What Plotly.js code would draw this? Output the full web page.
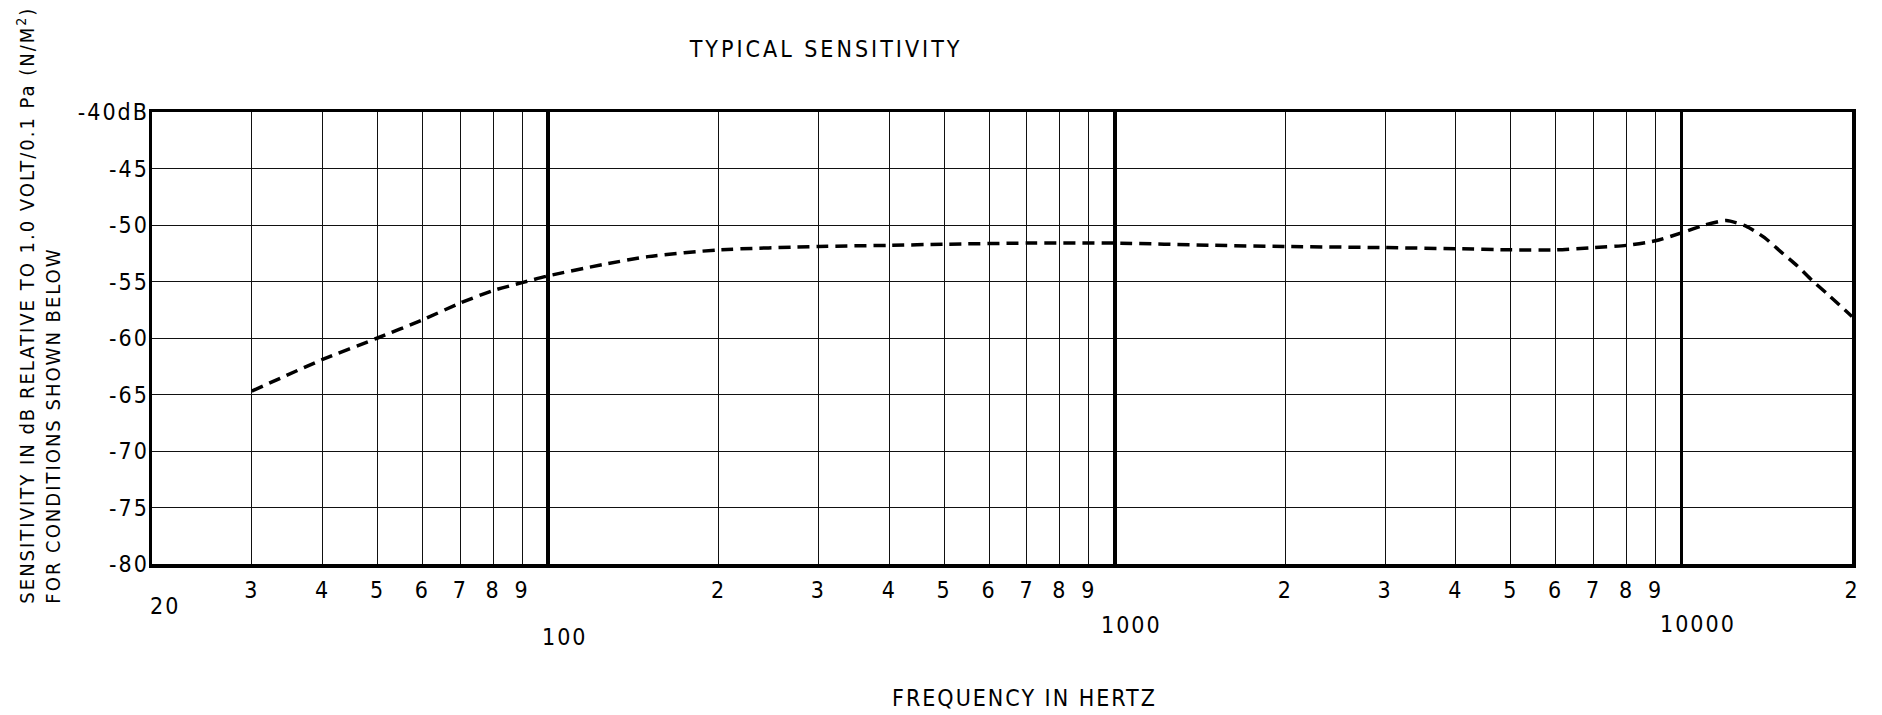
<!DOCTYPE html>
<html>
<head>
<meta charset="utf-8">
<script src="https://cdn.plot.ly/plotly-3.0.1.min.js"></script>
<style>
  html, body { margin: 0; padding: 0; background: #fff; }
  #chart { width: 1882px; height: 715px; }
  svg text { font-stretch: condensed; }
  .xtick text, .ytick text { letter-spacing: 2px; }
  .gtitle { letter-spacing: 3px; }
  .annotation-text { letter-spacing: 2px; }
  .gridlayer path { shape-rendering: crispEdges; }
</style>
</head>
<body>
<div id="chart"></div>
<script>
// Frequency (Hz) and sensitivity (dB re 1 V / 0.1 Pa)
const freq = [30, 40, 50, 60, 70, 80, 90, 100, 125, 150, 200, 300, 400, 500, 700, 1000,
              1500, 2000, 3000, 4000, 5000, 6000, 7000, 8000, 9000, 10000, 11000, 12000,
              13000, 14000, 15000, 16000, 17000, 18000, 20000];
const sens = [-64.7, -61.9, -60.0, -58.4, -56.9, -55.8, -55.1, -54.5, -53.5, -52.8, -52.2,
              -51.9, -51.8, -51.7, -51.6, -51.6, -51.8, -51.9, -52.0, -52.1, -52.2, -52.2,
              -52.0, -51.8, -51.4, -50.7, -50.0, -49.6, -50.1, -51.1, -52.4, -53.6, -54.9,
              -56.0, -58.1];

// Minor x gridlines with their digit labels
const minorTickVals = [30, 40, 50, 60, 70, 80, 90, 200, 300, 400, 500, 600, 700, 800, 900,
                       2000, 3000, 4000, 5000, 6000, 7000, 8000, 9000, 20000];
const minorTickText = ['3', '4', '5', '6', '7', '8', '9', '2', '3', '4', '5', '6', '7', '8', '9',
                       '2', '3', '4', '5', '6', '7', '8', '9', '2'];
// Decade lines and their labels
const decadeVals = [100, 1000, 10000];
const decadeLabels = ['100', '1000', '10000'];
const startLabel = '20';

// y axis
const yTickVals = [-40, -45, -50, -55, -60, -65, -70, -75, -80];
const yTickText = ['-40dB', '-45', '-50', '-55', '-60', '-65', '-70', '-75', '-80'];

const FONT = '"DejaVu Sans Condensed", "Liberation Sans Narrow", "DejaVu Sans", sans-serif';

const xRange = [Math.log10(20), Math.log10(20000)];

const trace = {
  x: freq, y: sens, type: 'scatter', mode: 'lines',
  line: { color: '#000', width: 3.5, dash: '12px,7px', shape: 'spline', smoothing: 0.6 },
  hoverinfo: 'skip', showlegend: false
};
// invisible trace to activate x2 (decade grid)
const trace2 = {
  x: [20, 20000], y: [-80, -80], xaxis: 'x2', yaxis: 'y', mode: 'lines',
  line: { width: 0 }, hoverinfo: 'skip', showlegend: false
};

const annotations = [];
const decadeY = [-0.162, -0.135, -0.133];
decadeVals.forEach((v, i) => {
  annotations.push({
    xref: 'x', yref: 'paper', x: Math.log10(v), y: decadeY[i], xanchor: 'center', yanchor: 'middle',
    xshift: 17, text: decadeLabels[i], showarrow: false,
    font: { family: FONT, size: 23, color: '#000' }
  });
});
annotations.push({
  xref: 'x', yref: 'paper', x: Math.log10(20), y: -0.093, xanchor: 'center', yanchor: 'middle',
  xshift: 13, text: startLabel, showarrow: false,
  font: { family: FONT, size: 23, color: '#000' }
});
annotations.push({
  xref: 'paper', yref: 'paper', x: 0.5135, y: -0.2965, xanchor: 'center', yanchor: 'middle',
  text: 'FREQUENCY IN HERTZ', showarrow: false,
  font: { family: FONT, size: 23, color: '#000' }
});
annotations.push({
  xref: 'paper', yref: 'paper', x: -0.067, y: -0.093, xanchor: 'center', yanchor: 'bottom',
  textangle: -90, align: 'left',
  text: 'SENSITIVITY IN dB RELATIVE TO 1.0 VOLT/0.1 Pa (N/M<sup>2</sup>)<br>FOR CONDITIONS SHOWN BELOW',
  showarrow: false,
  font: { family: FONT, size: 20, color: '#000' }
});

const layout = {
  width: 1882, height: 715,
  margin: { l: 152, r: 30, t: 112, b: 151 },
  paper_bgcolor: '#fff', plot_bgcolor: '#fff',
  font: { family: FONT, color: '#000' },
  title: {
    text: 'TYPICAL SENSITIVITY', x: 0.3965, xref: 'paper', xanchor: 'center',
    y: 1 - 49 / 715, yref: 'container', yanchor: 'middle',
    font: { family: FONT, size: 23, color: '#000' }
  },
  xaxis: {
    type: 'log', range: xRange, tickmode: 'array',
    tickvals: minorTickVals, ticktext: minorTickText,
    showgrid: true, gridcolor: '#111', gridwidth: 1,
    ticks: '', ticklabelstandoff: 3,
    tickfont: { family: FONT, size: 23, color: '#000' },
    showline: true, linecolor: '#000', linewidth: 3.5, mirror: true,
    zeroline: false, fixedrange: true
  },
  xaxis2: {
    type: 'log', range: xRange, overlaying: 'x', tickmode: 'array',
    tickvals: decadeVals, showticklabels: false, ticks: '',
    showgrid: true, gridcolor: '#000', gridwidth: 3.5,
    showline: false, zeroline: false, fixedrange: true
  },
  yaxis: {
    range: [-80, -40], tickmode: 'array', tickvals: yTickVals, ticktext: yTickText,
    showgrid: true, gridcolor: '#111', gridwidth: 1,
    ticks: '', ticklabelstandoff: -5,
    tickfont: { family: FONT, size: 23, color: '#000' },
    showline: true, linecolor: '#000', linewidth: 3.5, mirror: true,
    zeroline: false, fixedrange: true
  },
  annotations: annotations,
  showlegend: false
};

Plotly.newPlot('chart', [trace2, trace], layout, { displayModeBar: false, staticPlot: true });
</script>
</body>
</html>
